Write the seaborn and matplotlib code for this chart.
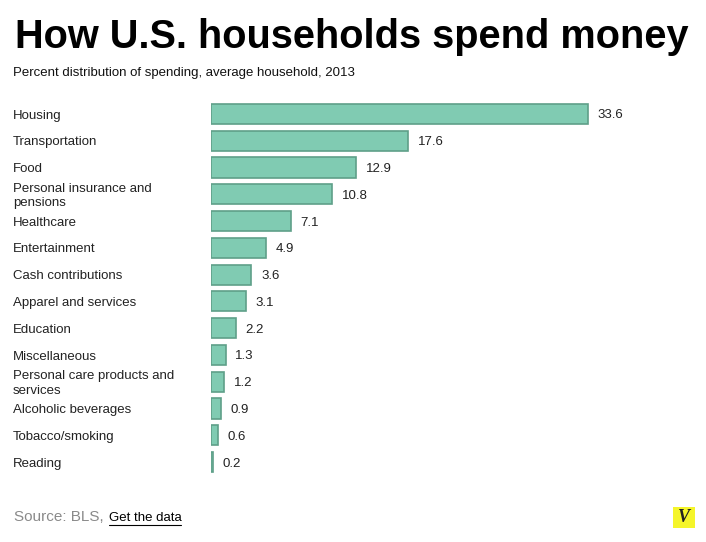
import matplotlib
matplotlib.use("Agg")
import matplotlib.pyplot as plt
import matplotlib.transforms as mtransforms
from matplotlib.lines import Line2D
from matplotlib.patches import Rectangle
import seaborn as sns
import pandas as pd

categories = ["Housing", "Transportation", "Food", "Personal insurance and\npensions",
              "Healthcare", "Entertainment", "Cash contributions", "Apparel and services",
              "Education", "Miscellaneous", "Personal care products and\nservices",
              "Alcoholic beverages", "Tobacco/smoking", "Reading"]
shares = [33.6, 17.6, 12.9, 10.8, 7.1, 4.9, 3.6, 3.1, 2.2, 1.3, 1.2, 0.9, 0.6, 0.2]
value_labels = ["33.6", "17.6", "12.9", "10.8", "7.1", "4.9", "3.6", "3.1", "2.2",
                "1.3", "1.2", "0.9", "0.6", "0.2"]

df = pd.DataFrame({"category": categories, "share": shares})

sns.set_style("white")
plt.rcParams["font.family"] = ["Liberation Sans", "DejaVu Sans"]

W, H = 706, 542
fig = plt.figure(figsize=(W / 100, H / 100), dpi=100)
fig.patch.set_facecolor("white")

# axes placed in pixel terms: x=0 at 211px, rows from 114px to 462px
x0, x1 = 211, 211 + 40 * 11.22
ax = fig.add_axes([x0 / W, 1 - 475.4 / H, (x1 - x0) / W, (475.4 - 100.6) / H])

sns.barplot(data=df, x="share", y="category", orient="h", color="#80cbb2",
            edgecolor="#5f9f89", linewidth=1.2, width=0.75, saturation=1, ax=ax)
ax.set_xlim(0, 40)
ax.set_ylim(13.5, -0.5)
vals = ax.bar_label(ax.containers[0], labels=value_labels, padding=7, fontsize=9.5,
                    color="#222222")
for t in vals:
    t.set_verticalalignment("center_baseline")

ax.set_xlabel("")
ax.set_ylabel("")
ax.set_xticks([])
ax.set_yticks(range(len(categories)))
ax.set_yticklabels([""] * len(categories))
ax.tick_params(axis="y", length=0)
sns.despine(ax=ax, left=True, bottom=True)

# category labels, left aligned at the figure edge
trans = mtransforms.blended_transform_factory(fig.transFigure, ax.transData)
for i, name in enumerate(categories):
    ax.text(13 / W, i + 0.06, name, transform=trans, ha="left", va="center", fontsize=9.5,
            color="#222222", linespacing=1.3, clip_on=False)

fig.text(15 / W, 1 - 48 / H, "How U.S. households spend money", fontsize=28.6,
         fontweight="bold", va="baseline", ha="left", color="black")
fig.text(13 / W, 1 - 73 / H, "Percent distribution of spending, average household, 2013",
         fontsize=9.5, va="center", ha="left", color="#111111")

fig.text(14 / W, 1 - 517 / H, "Source: BLS,", fontsize=11, va="center",
         ha="left", color="#8a8a8a")
fig.text(109 / W, 1 - 518 / H, "Get the data", fontsize=9.5, va="center", ha="left",
         color="black")
fig.add_artist(Line2D([109 / W, 181 / W], [1 - 525 / H, 1 - 525 / H], color="black",
                      linewidth=0.8))

fig.add_artist(Rectangle((673 / W, 1 - 528 / H), 22 / W, 21 / H, facecolor="#f5f52a",
                         edgecolor="none"))
fig.text(684 / W, 1 - 517.5 / H, "V", fontsize=13, fontweight="bold", style="italic",
         family="Liberation Serif", va="center", ha="center", color="#222222")

fig.savefig("out.png", dpi=100)
